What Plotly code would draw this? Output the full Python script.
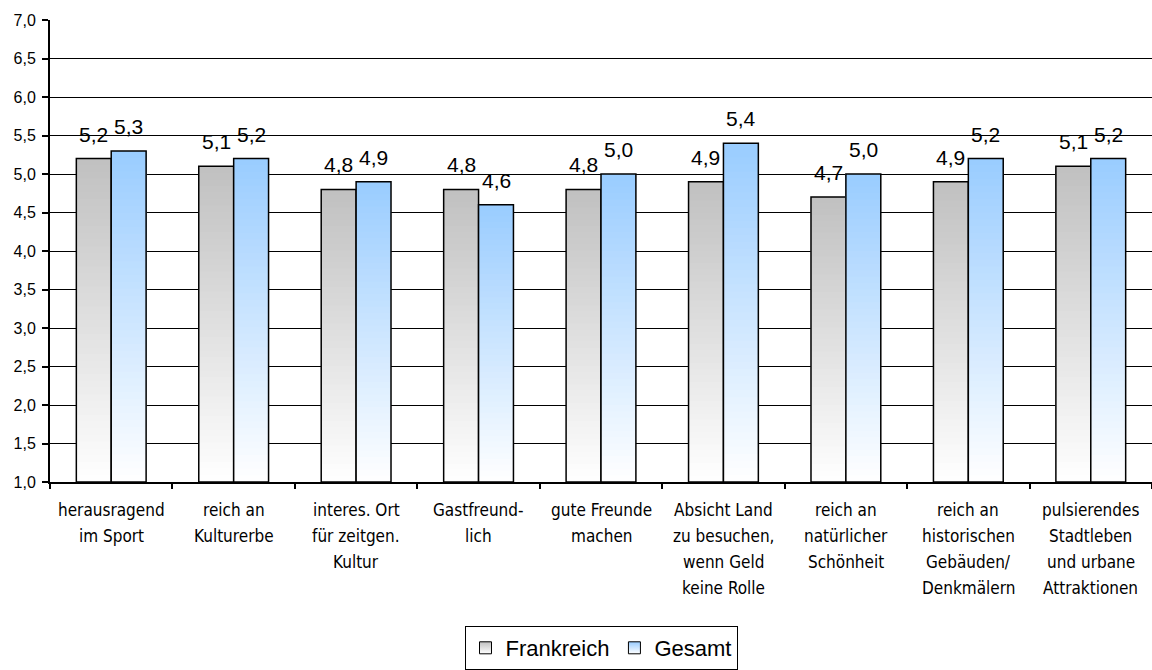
import plotly.graph_objects as go

# Category labels (line breaks where the axis text wraps)
categories = [
    "herausragend\nim Sport",
    "reich an\nKulturerbe",
    "interes. Ort\nfür zeitgen.\nKultur",
    "Gastfreund-\nlich",
    "gute Freunde\nmachen",
    "Absicht Land\nzu besuchen,\nwenn Geld\nkeine Rolle",
    "reich an\nnatürlicher\nSchönheit",
    "reich an\nhistorischen\nGebäuden/\nDenkmälern",
    "pulsierendes\nStadtleben\nund urbane\nAttraktionen",
]
frankreich = [5.2, 5.1, 4.8, 4.8, 4.8, 4.9, 4.7, 4.9, 5.1]
gesamt = [5.3, 5.2, 4.9, 4.6, 5.0, 5.4, 5.0, 5.2, 5.2]

# Layout constants
W, H = 1152, 670
M_L, M_R, M_T, M_B = 50, 0, 20, 185
Y_MIN, Y_MAX = 1.0, 7.0
BAR_W = 0.285            # width of one bar in category units
N_STEPS = 48             # layers used to build the vertical colour gradient
LABEL_FONT = "Arial, Liberation Sans, sans-serif"
CAT_FONT = "DejaVu Sans Condensed, DejaVu Sans, sans-serif"

x_keys = [c.replace("\n", " ") for c in categories]

series = [
    dict(name="Frankreich", values=frankreich, top=(192, 192, 192), offset=-BAR_W),
    dict(name="Gesamt", values=gesamt, top=(153, 204, 255), offset=0.0),
]


def mix(top, t):
    """Blend from white (t=0, bottom) to the top colour (t=1)."""
    r, g, b = (round(255 + (c - 255) * t) for c in top)
    return f"rgb({r},{g},{b})"


fig = go.Figure()

for s in series:
    vals = s["values"]
    # gradient body: each layer starts a little higher and runs up to the value,
    # painted bottom-up so the colour steps blend into a smooth ramp
    for k in range(N_STEPS):
        frac = k / N_STEPS
        fig.add_trace(go.Bar(
            x=x_keys,
            base=[Y_MIN + (v - Y_MIN) * frac for v in vals],
            y=[(v - Y_MIN) * (1 - frac) for v in vals],
            width=BAR_W, offset=s["offset"],
            marker=dict(color=mix(s["top"], (k + 0.5) / N_STEPS), line=dict(width=0)),
            showlegend=False, hoverinfo="skip",
        ))
    # black outline on top of the gradient
    fig.add_trace(go.Bar(
        x=x_keys,
        base=[Y_MIN] * len(vals),
        y=[v - Y_MIN for v in vals],
        width=BAR_W, offset=s["offset"],
        marker=dict(color="rgba(0,0,0,0)", line=dict(color="black", width=1.5)),
        showlegend=False, name=s["name"],
        hovertemplate="%{x}: %{customdata}<extra>" + s["name"] + "</extra>",
        customdata=vals,
    ))

# legend swatches with the same gradient look
for s in series:
    fig.add_trace(go.Scatter(
        x=[None], y=[None], mode="markers", name=s["name"],
        marker=dict(symbol="square", size=12, color=mix(s["top"], 1.0),
                    gradient=dict(type="vertical", color="white"),
                    line=dict(color="black", width=1)),
    ))

annotations = []
# value labels above each bar
px_per_cat = (W - M_L - M_R) / len(categories)
half_bar_px = BAR_W * px_per_cat / 2
for s in series:
    sign = -1 if s["offset"] < 0 else 1
    for key, v in zip(x_keys, s["values"]):
        annotations.append(dict(
            x=key, y=v, xref="x", yref="y", text=f"{v:.1f}".replace(".", ","),
            showarrow=False, xshift=sign * half_bar_px, yshift=11,
            yanchor="bottom", xanchor="center",
            font=dict(family=LABEL_FONT, size=21, color="black"),
        ))

# category labels, one line at a time for the wide line spacing
LINE_STEP = 26
for key, cat in zip(x_keys, categories):
    for i, line in enumerate(cat.split("\n")):
        annotations.append(dict(
            x=key, y=0, xref="x", yref="paper", text=line, showarrow=False,
            yanchor="middle", xanchor="center", yshift=-(28 + LINE_STEP * i),
            font=dict(family=CAT_FONT, size=17, color="black"),
        ))

fig.update_layout(
    width=W, height=H,
    margin=dict(l=M_L, r=M_R, t=M_T, b=M_B),
    paper_bgcolor="white", plot_bgcolor="white",
    barmode="overlay",
    separators=",.",
    showlegend=True,
    legend=dict(
        orientation="h", x=0.5, xanchor="center", y=-0.312, yanchor="top",
        bordercolor="black", borderwidth=1, bgcolor="white",
        font=dict(family=LABEL_FONT, size=22, color="black"),
        itemwidth=30, tracegroupgap=0,
    ),
    annotations=annotations,
)

fig.update_xaxes(
    type="category", categoryorder="array", categoryarray=x_keys,
    range=[-0.5, len(categories) - 0.5],
    showline=True, linecolor="black", linewidth=1.5,
    ticks="outside", tickson="boundaries", ticklen=5, tickwidth=1.5, tickcolor="black",
    showticklabels=False, showgrid=False, zeroline=False,
)
fig.update_yaxes(
    range=[Y_MIN, Y_MAX], dtick=0.5, tick0=1.0, tickformat=".1f",
    showgrid=True, gridcolor="black", gridwidth=1.3,
    showline=True, linecolor="black", linewidth=2,
    ticks="outside", ticklen=6, tickwidth=1.5, tickcolor="black",
    ticklabelstandoff=3,
    tickfont=dict(family=LABEL_FONT, size=16, color="black"),
    zeroline=False,
)

fig.write_html("out.html")
